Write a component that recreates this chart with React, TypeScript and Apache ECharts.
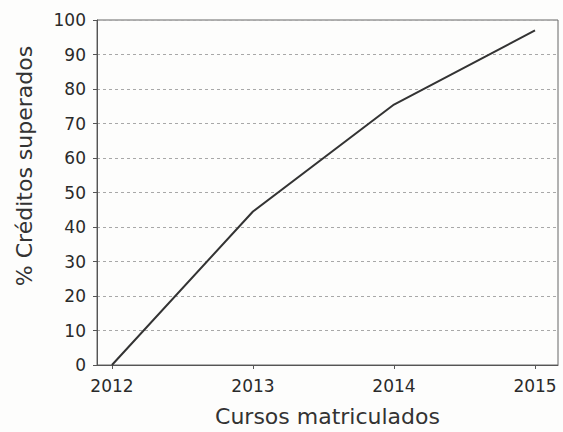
import React, { useEffect, useRef } from "react";
import * as echarts from "echarts";

const years = [2012, 2013, 2014, 2015];
const creditsPct = [0, 44.5, 75.5, 97];
const yTicks = [0, 10, 20, 30, 40, 50, 60, 70, 80, 90, 100];

const FONT = "DejaVu Sans";

export default function App() {
  const ref = useRef<HTMLDivElement>(null);

  useEffect(() => {
    if (!ref.current) return;
    const chart = echarts.init(ref.current, undefined, { renderer: "svg" });
    chart.setOption({
      animation: false,
      backgroundColor: "#fdfdfc",
      grid: {
        left: 97,
        top: 20,
        right: 5,
        bottom: 67,
        outerBoundsMode: "none",
        containLabel: false,
        show: true,
        borderColor: "#666",
        borderWidth: 1,
        backgroundColor: "transparent",
      },
      xAxis: {
        type: "value",
        min: 2011.894,
        max: 2015.163,
        name: "Cursos matriculados",
        nameLocation: "middle",
        nameGap: 40,
        nameTextStyle: { fontFamily: FONT, fontSize: 22, color: "#333" },
        axisLine: { show: true, lineStyle: { color: "#555", width: 1 } },
        axisTick: {
          show: true,
          length: 4,
          customValues: years,
          lineStyle: { color: "#555" },
        },
        axisLabel: {
          customValues: years,
          formatter: (v: number) => String(v),
          fontFamily: FONT,
          fontSize: 17,
          color: "#2a2a2a",
          margin: 12,
        },
        splitLine: { show: false },
      },
      yAxis: {
        type: "value",
        min: 0,
        max: 100,
        interval: 10,
        axisLine: { show: true, lineStyle: { color: "#555", width: 1 } },
        axisTick: { show: true, length: 4, lineStyle: { color: "#555" } },
        axisLabel: {
          customValues: yTicks,
          fontFamily: FONT,
          fontSize: 17,
          color: "#2a2a2a",
          margin: 11,
        },
        splitLine: {
          show: true,
          lineStyle: { color: "#a8a8a8", type: [3, 3], width: 1 },
        },
      },
      graphic: [
        {
          type: "text",
          x: 24,
          y: 166,
          rotation: Math.PI / 2,
          style: {
            text: "% Créditos superados",
            fontFamily: FONT,
            fontSize: 22,
            fill: "#333",
            align: "center",
            verticalAlign: "middle",
          },
        },
      ],
      series: [
        {
          type: "line",
          data: years.map((y, i) => [y, creditsPct[i]]),
          showSymbol: false,
          symbol: "none",
          lineStyle: { color: "#333", width: 2 },
        },
      ],
    });
    return () => chart.dispose();
  }, []);

  return (
    <div
      ref={ref}
      style={{ position: "fixed", left: 0, top: 0, width: 563, height: 432 }}
    />
  );
}
